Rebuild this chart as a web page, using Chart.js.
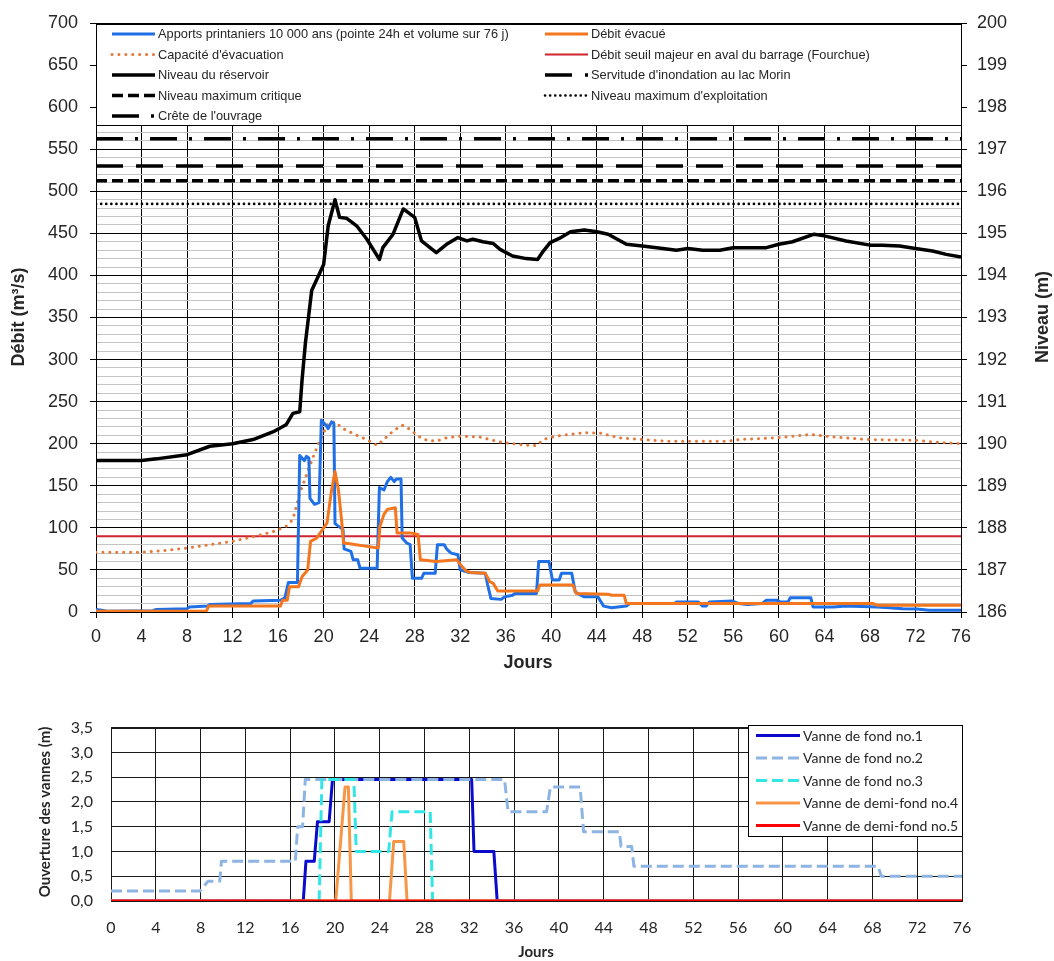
<!DOCTYPE html>
<html lang="fr">
<head>
<meta charset="utf-8">
<title>Apports printaniers 10 000 ans – débits, niveau et ouverture des vannes</title>
<script src="https://cdn.jsdelivr.net/npm/chart.js@4.4.1/dist/chart.umd.min.js"></script>
<style>
  html, body { margin: 0; padding: 0; background: #fff; }
  #page { position: relative; width: 1054px; height: 961px; overflow: hidden; background: #fff; }
  #haut { position: absolute; left: 0; top: 0; }
  #bas { position: absolute; left: 0; top: 700px; }
</style>
</head>
<body>
<div id="page">
  <canvas id="haut" width="1054" height="690"></canvas>
  <canvas id="bas" width="1054" height="261"></canvas>
</div>
<script>
// ---------- Données ----------
// Axe des temps (jours)
const joursBornes = [0, 76];

// Apports printaniers 10 000 ans (m³/s)
const joursApports = [0, 0.5, 1, 5, 5.3, 8, 8.2, 9.8, 10, 13.6, 13.8, 16.2, 16.6, 16.9, 17.7, 17.9, 18.3, 18.5, 18.7, 18.8, 19.2, 19.6, 19.8, 20.2, 20.4, 20.7, 20.9, 21.0, 21.5, 21.7, 21.8, 22.4, 22.6, 23.0, 23.2, 24.7, 24.9, 25.3, 25.6, 25.9, 26.2, 26.4, 26.8, 26.9, 27.3, 27.6, 27.8, 28.6, 28.8, 29.8, 30.0, 30.6, 30.8, 31.2, 31.8, 32.0, 32.8, 34.2, 34.4, 34.7, 35.6, 35.9, 36.6, 36.8, 38.7, 38.9, 39.8, 40.1, 40.7, 40.9, 41.8, 42.1, 42.6, 42.9, 44.1, 44.6, 45.3, 46.6, 46.9, 50.8, 51.0, 52.9, 53.3, 53.6, 53.9, 55.9, 56.5, 57.2, 58.5, 58.9, 59.8, 60.1, 60.8, 61.0, 62.8, 63.0, 64.8, 65.9, 68.6, 69.7, 70.9, 72.1, 73.2, 76];
const debitApports = [3, 2, 1, 1.5, 3, 4, 6, 7, 9, 10, 13, 14, 17, 35, 35, 186, 180, 185, 183, 135, 128, 130, 228, 222, 218, 226, 224, 105, 100, 98, 75, 72, 62, 62, 52, 52, 148, 145, 155, 160, 155, 158, 158, 88, 82, 80, 40, 40, 46, 46, 80, 80, 75, 70, 68, 50, 47, 46, 33, 16, 15, 18, 20, 22, 22, 60, 60, 38, 38, 46, 46, 24, 20, 18, 18, 7, 5, 7, 10, 10, 12, 12, 7, 7, 12, 13, 10, 9, 10, 14, 14, 12, 12, 17, 17, 6, 6, 7, 6, 5, 4, 3.5, 2, 2];

// Débit évacué (m³/s)
const joursEvacue = [0, 9.7, 9.9, 16.2, 16.4, 16.8, 17.0, 17.8, 18.1, 18.6, 18.85, 19.4, 19.9, 20.3, 20.7, 21.0, 21.3, 21.6, 21.75, 22.3, 23.8, 24.8, 24.95, 25.3, 25.6, 26.3, 26.45, 27.6, 28.3, 28.5, 29.9, 31.7, 32.1, 32.5, 32.9, 34.2, 34.6, 34.9, 35.3, 38.8, 39.0, 41.9, 42.2, 45.0, 45.3, 46.4, 46.6, 68.3, 68.6, 76];
const debitEvacue = [1, 1, 7, 7, 14, 14, 30, 30, 42, 50, 84, 88, 98, 106, 145, 167, 145, 106, 82, 81, 78, 76, 102, 116, 122, 124, 94, 94, 92, 62, 60, 62, 55, 49, 47, 46, 36, 34, 25, 25, 32, 32, 22, 21, 20, 20, 10, 10, 8, 8];

// Capacité d'évacuation (m³/s)
const joursCapacite = [0, 4, 6, 8, 10, 12, 14, 15.7, 16.7, 17.3, 17.9, 18.5, 19.1, 19.7, 20.4, 21, 21.7, 22.9, 23.8, 24.7, 25.2, 26.1, 26.9, 27.6, 28.3, 29.1, 29.9, 30.8, 32, 33.7, 35.5, 37.2, 38.7, 39.3, 40.4, 42.8, 44.3, 46, 48, 50, 53, 55.4, 56.6, 59.8, 62.8, 64.8, 67.7, 72.1, 73.5, 76];
const debitCapacite = [71, 71, 73, 76, 80, 84, 90, 96, 102, 110, 141, 163, 185, 205, 224, 226, 218, 210, 205, 198, 204, 215, 222, 217, 209, 204, 203, 207, 209, 208, 202, 199, 197.6, 205, 209, 213, 212.6, 207, 205, 203, 203, 203, 205, 207, 211, 208, 205, 204, 202, 200];

// Niveau du réservoir (m)
const joursNiveau = [0, 4, 5.3, 8, 10, 12, 13.8, 15.7, 16.7, 17.3, 17.9, 18.1, 18.4, 18.65, 18.95, 19.7, 20.0, 20.4, 21.0, 21.4, 22.0, 22.9, 23.8, 24.9, 25.2, 26.1, 27.0, 28.0, 28.6, 29.9, 30.8, 31.8, 32.6, 33.1, 34.0, 34.9, 35.5, 36.6, 37.8, 38.8, 39.3, 39.9, 40.7, 41.7, 42.9, 44.0, 45.0, 46.6, 48.0, 49.8, 51.0, 52.0, 53.3, 54.8, 56.0, 58.9, 60.0, 61.2, 63.1, 64.0, 65.9, 68.0, 69.1, 70.6, 72.0, 73.5, 74.7, 76];
const niveauReservoir = [189.60, 189.60, 189.64, 189.74, 189.94, 190.00, 190.10, 190.30, 190.45, 190.72, 190.76, 191.50, 192.40, 192.96, 193.64, 194.08, 194.26, 195.18, 195.80, 195.38, 195.36, 195.18, 194.86, 194.38, 194.66, 194.98, 195.58, 195.38, 194.82, 194.54, 194.74, 194.90, 194.82, 194.86, 194.80, 194.76, 194.62, 194.46, 194.40, 194.38, 194.58, 194.78, 194.88, 195.04, 195.08, 195.04, 194.98, 194.74, 194.70, 194.64, 194.60, 194.64, 194.60, 194.60, 194.66, 194.66, 194.74, 194.80, 194.98, 194.94, 194.82, 194.72, 194.72, 194.70, 194.64, 194.58, 194.50, 194.44];

// Seuils
const debitSeuilFourchue = 90;        // m³/s
const niveauCrete = 197.25;           // m
const niveauServitude = 196.6;        // m
const niveauMaxCritique = 196.25;     // m
const niveauMaxExploitation = 195.7;  // m

// Ouverture des vannes (m)
const joursVanne1 = [0, 17.17, 17.41, 18.15, 18.44, 19.48, 19.78, 32.21, 32.42, 34.19, 34.49, 76];
const ouvVanne1   = [0, 0, 0.8, 0.8, 1.6, 1.6, 2.45, 2.45, 1.0, 1.0, 0, 0];
const joursVanne2 = [0, 7.93, 8.67, 9.71, 9.86, 16.46, 16.67, 17.11, 17.35, 35.15, 35.46, 38.9, 39.24, 41.9, 42.2, 45.4, 45.55, 46.5, 46.7, 68.5, 68.8, 76];
const ouvVanne2   = [0.2, 0.2, 0.4, 0.4, 0.8, 0.8, 1.5, 1.5, 2.45, 2.45, 1.8, 1.8, 2.3, 2.3, 1.4, 1.4, 1.1, 1.1, 0.7, 0.7, 0.5, 0.5];
const joursVanne3 = [0, 18.59, 18.83, 21.69, 21.9, 24.8, 25.1, 28.51, 28.72, 76];
const ouvVanne3   = [0, 0, 2.45, 2.45, 1.0, 1.0, 1.8, 1.8, 0, 0];
const joursVanne4 = [0, 20.07, 20.9, 21.2, 21.46, 24.87, 25.25, 26.14, 26.44, 76];
const ouvVanne4   = [0, 0, 2.3, 2.3, 0, 0, 1.2, 1.2, 0, 0];
const joursVanne5 = [0, 76];
const ouvVanne5   = [0, 0];

// ---------- Outils ----------
const pts = (xs, ys) => xs.map((x, i) => ({ x: x, y: ys[i] }));
const horiz = v => joursBornes.map(x => ({ x: x, y: v }));

const ARIAL = '"Liberation Sans", Arial, sans-serif';
const CALIB = 'Lato, "Open Sans", sans-serif';
const TXT = '#262626';

// Titres d'axes dessinés librement (orientation et position)
function titresAxes(items) {
  return {
    id: 'titresAxes',
    afterDraw(chart) {
      const ctx = chart.ctx;
      items.forEach(t => {
        ctx.save();
        ctx.font = t.font;
        ctx.fillStyle = TXT;
        ctx.textAlign = 'center';
        ctx.textBaseline = 'middle';
        ctx.translate(t.x, t.y);
        ctx.rotate(t.rot || 0);
        ctx.fillText(t.text, 0, 0);
        ctx.restore();
      });
    }
  };
}

// Légende encadrée, sur une ou plusieurs colonnes
function legendeEncadree(cfg) {
  return {
    id: 'legendeEncadree',
    afterDraw(chart) {
      const ctx = chart.ctx;
      ctx.save();
      ctx.fillStyle = '#fff';
      ctx.fillRect(cfg.box[0], cfg.box[1], cfg.box[2] - cfg.box[0], cfg.box[3] - cfg.box[1]);
      ctx.strokeStyle = '#000';
      ctx.lineWidth = 1;
      ctx.strokeRect(cfg.box[0] + 0.5, cfg.box[1] + 0.5, cfg.box[2] - cfg.box[0] - 1, cfg.box[3] - cfg.box[1] - 1);
      if (cfg.topWidth) {
        ctx.lineWidth = cfg.topWidth;
        ctx.beginPath();
        ctx.moveTo(cfg.box[0], cfg.box[1] + cfg.topWidth / 2);
        ctx.lineTo(cfg.box[2], cfg.box[1] + cfg.topWidth / 2);
        ctx.stroke();
      }
      const n = cfg.cols.length;
      chart.data.datasets.forEach((ds, i) => {
        const x0 = cfg.cols[i % n];
        const y = cfg.rows[Math.floor(i / n)];
        ctx.beginPath();
        ctx.setLineDash(ds.borderDash || []);
        ctx.lineDashOffset = 0;
        ctx.lineCap = ds.borderCapStyle || 'butt';
        ctx.lineWidth = ds.borderWidth;
        ctx.strokeStyle = ds.borderColor;
        ctx.moveTo(x0, y);
        ctx.lineTo(x0 + cfg.sample, y);
        ctx.stroke();
        ctx.setLineDash([]);
        ctx.fillStyle = TXT;
        ctx.font = cfg.font;
        ctx.textAlign = 'left';
        ctx.textBaseline = 'middle';
        ctx.fillText(ds.label, x0 + cfg.sample + cfg.gap, y + 0.5);
      });
      ctx.restore();
    }
  };
}

const base = { pointRadius: 0, pointHoverRadius: 0, fill: false, tension: 0, borderJoinStyle: 'round' };

// ---------- Graphique du haut : débits et niveaux ----------
new Chart(document.getElementById('haut'), {
  type: 'line',
  data: {
    datasets: [
      Object.assign({}, base, { label: 'Apports printaniers 10 000 ans (pointe 24h et volume sur 76 j)', data: pts(joursApports, debitApports), borderColor: '#1f6fe6', borderWidth: 3, yAxisID: 'y', order: 6 }),
      Object.assign({}, base, { label: 'Débit évacué', data: pts(joursEvacue, debitEvacue), borderColor: '#f4761e', borderWidth: 3, yAxisID: 'y', order: 5 }),
      Object.assign({}, base, { label: "Capacité d'évacuation", data: pts(joursCapacite, debitCapacite), borderColor: '#e37a3c', borderWidth: 3, borderDash: [0.1, 6.8], borderCapStyle: 'round', yAxisID: 'y', order: 8 }),
      Object.assign({}, base, { label: 'Débit seuil majeur en aval du barrage (Fourchue)', data: horiz(debitSeuilFourchue), borderColor: '#cf2430', borderWidth: 2, yAxisID: 'y', order: 9 }),
      Object.assign({}, base, { label: 'Niveau du réservoir', data: pts(joursNiveau, niveauReservoir), borderColor: '#000', borderWidth: 3.5, yAxisID: 'y2', order: 7 }),
      Object.assign({}, base, { label: "Servitude d'inondation au lac Morin", data: horiz(niveauServitude), borderColor: '#000', borderWidth: 3.5, borderDash: [27, 13], yAxisID: 'y2', order: 10 }),
      Object.assign({}, base, { label: 'Niveau maximum critique', data: horiz(niveauMaxCritique), borderColor: '#000', borderWidth: 3.5, borderDash: [11, 5], yAxisID: 'y2', order: 10 }),
      Object.assign({}, base, { label: "Niveau maximum d'exploitation", data: horiz(niveauMaxExploitation), borderColor: '#000', borderWidth: 2.6, borderDash: [0.1, 5], borderCapStyle: 'round', yAxisID: 'y2', order: 10 }),
      Object.assign({}, base, { label: "Crête de l'ouvrage", data: horiz(niveauCrete), borderColor: '#000', borderWidth: 3.5, borderDash: [27, 12, 3, 12], yAxisID: 'y2', order: 10 })
    ]
  },
  options: {
    responsive: false,
    animation: false,
    devicePixelRatio: 1,
    events: [],
    layout: { padding: { top: 23, left: 0, right: 0, bottom: 0 } },
    plugins: { legend: { display: false }, tooltip: { enabled: false } },
    scales: {
      x: {
        type: 'linear', min: 0, max: 76,
        ticks: { stepSize: 4, autoSkip: false, maxRotation: 0, font: { family: ARIAL, size: 18 }, color: TXT, padding: 8 },
        grid: { color: '#000', lineWidth: 1, tickLength: 6, tickColor: '#000' },
        border: { color: '#000', width: 1 },
        afterFit(s) { s.height = 78; }
      },
      y: {
        position: 'left', min: 0, max: 700,
        ticks: { stepSize: 10, autoSkip: false, font: { family: ARIAL, size: 18 }, color: TXT, padding: 12,
                 callback: v => (v % 50 === 0 ? v : '') },
        grid: {
          color: c => (c.tick && c.tick.value % 50 === 0 ? '#000' : '#c4c4c4'),
          tickColor: c => (c.tick && c.tick.value % 50 === 0 ? '#000' : 'rgba(0,0,0,0)'),
          lineWidth: 1, tickLength: 6
        },
        border: { color: '#000', width: 1 },
        afterFit(s) { s.width = 96; }
      },
      y2: {
        position: 'right', min: 186, max: 200,
        ticks: { stepSize: 1, autoSkip: false, font: { family: ARIAL, size: 18 }, color: TXT, padding: 10 },
        grid: { drawOnChartArea: false, tickLength: 6, tickColor: '#000' },
        border: { color: '#000', width: 1 },
        afterFit(s) { s.width = 93; }
      }
    }
  },
  plugins: [
    legendeEncadree({ box: [96, 23, 962, 126], topWidth: 2, cols: [112, 545], rows: [34, 54.5, 75, 95.5, 116], sample: 43, gap: 3, font: '12.8px ' + ARIAL }),
    titresAxes([
      { text: 'Débit (m³/s)', x: 19, y: 317, rot: -Math.PI / 2, font: 'bold 18px ' + ARIAL },
      { text: 'Niveau (m)', x: 1043, y: 317, rot: -Math.PI / 2, font: 'bold 18px ' + ARIAL },
      { text: 'Jours', x: 528, y: 663, font: 'bold 18px ' + ARIAL }
    ])
  ]
});

// ---------- Graphique du bas : ouverture des vannes ----------
new Chart(document.getElementById('bas'), {
  type: 'line',
  data: {
    datasets: [
      Object.assign({}, base, { label: 'Vanne de fond no.1', data: pts(joursVanne1, ouvVanne1), borderColor: '#0a0acd', borderWidth: 3, order: 5 }),
      Object.assign({}, base, { label: 'Vanne de fond no.2', data: pts(joursVanne2, ouvVanne2), borderColor: '#8db4e2', borderWidth: 3, borderDash: [11, 5], order: 4 }),
      Object.assign({}, base, { label: 'Vanne de fond no.3', data: pts(joursVanne3, ouvVanne3), borderColor: '#33e6e6', borderWidth: 3, borderDash: [11, 5], order: 3 }),
      Object.assign({}, base, { label: 'Vanne de demi-fond no.4', data: pts(joursVanne4, ouvVanne4), borderColor: '#f79646', borderWidth: 3, order: 2 }),
      Object.assign({}, base, { label: 'Vanne de demi-fond no.5', data: pts(joursVanne5, ouvVanne5), borderColor: '#ff0000', borderWidth: 3, order: 1 })
    ]
  },
  options: {
    responsive: false,
    animation: false,
    devicePixelRatio: 1,
    events: [],
    layout: { padding: { top: 24, left: 0, right: 92, bottom: 0 } },
    plugins: { legend: { display: false }, tooltip: { enabled: false } },
    scales: {
      x: {
        type: 'linear', min: 0, max: 76,
        ticks: { stepSize: 4, autoSkip: false, maxRotation: 0, font: { family: CALIB, size: 16 }, color: TXT, padding: 17 },
        grid: { color: '#1a1a1a', lineWidth: 1, drawTicks: false },
        border: { color: '#1a1a1a', width: 1 },
        afterFit(s) { s.height = 60; }
      },
      y: {
        min: 0, max: 3.5,
        ticks: { stepSize: 0.5, autoSkip: false, font: { family: CALIB, size: 16 }, color: TXT, padding: 18,
                 callback: v => v.toFixed(1).replace('.', ',') },
        grid: { color: '#1a1a1a', lineWidth: c => (c.tick && c.tick.value === 3.5 ? 2 : 1), drawTicks: false },
        border: { color: '#1a1a1a', width: 1 },
        afterFit(s) { s.width = 111; }
      }
    }
  },
  plugins: [
    legendeEncadree({ box: [748, 25, 963, 137], cols: [756], rows: [35.5, 58, 80.5, 103, 125.5], sample: 44, gap: 3, font: '14px ' + CALIB }),
    titresAxes([
      { text: 'Ouverture des vannes (m)', x: 45, y: 112, rot: -Math.PI / 2, font: 'bold 15px ' + CALIB },
      { text: 'Jours', x: 536, y: 252, font: 'bold 15px ' + CALIB }
    ])
  ]
});
</script>
</body>
</html>
